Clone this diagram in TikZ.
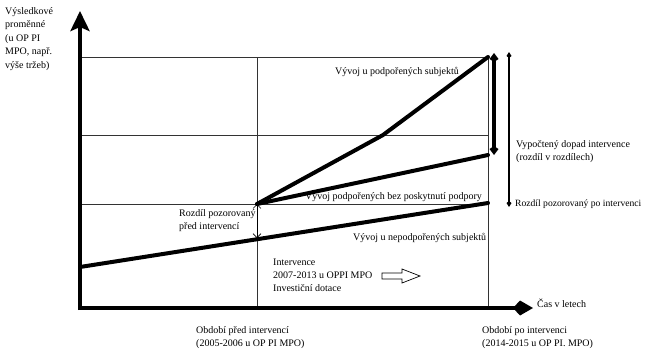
\documentclass[tikz,border=0pt]{standalone}
\usepackage{fontspec}
\setmainfont{Liberation Serif}
\usetikzlibrary{arrows.meta}
\tikzset{
  grid/.style={draw=black!80, line width=0.9pt},
  trend/.style={line width=4pt, line cap=round, line join=round},
  axis/.style={line width=4.5pt},
  lbl/.style={font=\fontsize{10}{13}\selectfont, inner sep=0pt, align=left},
  lbly/.style={font=\fontsize{10}{13.6}\selectfont, inner sep=0pt, align=left},
}
\begin{document}
\begin{tikzpicture}[x=1pt,y=-1pt]
\useasboundingbox (0,0) rectangle (647,349);
\fill[white] (0,0) rectangle (647,349);
% coordinates
\coordinate (O) at (80,308);
\coordinate (Ytop) at (80,11);
\coordinate (Xend) at (533,308);
\coordinate (TL) at (80,57);
\coordinate (TR) at (488,57);
\coordinate (ML) at (80,135);
\coordinate (MR) at (488,135);
\coordinate (LL) at (80,204);
\coordinate (LR) at (488,204);
\coordinate (V1t) at (257,57);
\coordinate (V1b) at (257,308);
\coordinate (V2b) at (488,308);
\coordinate (U1) at (80,267);
\coordinate (U2) at (488,203);
\coordinate (S0) at (257,204);
\coordinate (S1) at (383,135);
\coordinate (S2) at (488,57);
\coordinate (C1) at (488,155);
\coordinate (U0) at (257,238);
\coordinate (DA1) at (494,53);
\coordinate (DA2) at (494,155);
\coordinate (DB1) at (509,52);
\coordinate (DB2) at (509,207);
% grid
\draw[grid] (TL) -- (TR);
\draw[grid] (ML) -- (MR);
\draw[grid] (LL) -- (LR);
\draw[grid] (V1t) -- (V1b);
\draw[grid] (TR) -- (V2b);
% axes
\draw[axis, -{Stealth[length=20pt, width=19pt, inset=4pt]}] ([yshift=-2pt]O) -- (Ytop);
\draw[axis, -{Kite[length=20pt, width=15pt, inset=7pt]}] ([xshift=-2pt]O) -- (Xend);
% trend lines
\draw[trend] (U1) -- (U2);
\draw[trend] (S0) -- (S1) -- (S2);
\draw[trend] (S0) -- (C1);
% observed difference before
\draw[line width=0.6pt, {Straight Barb[length=4pt,width=8pt]}-{Straight Barb[length=4pt,width=8pt]}] (S0) -- (U0);
% right double arrows
\draw[line width=4pt, {Kite[length=9pt,width=9pt,inset=3pt]}-{Kite[length=9pt,width=9pt,inset=3pt]}] (DA1) -- (DA2);
\draw[line width=1.5pt, {Kite[length=6pt,width=5pt,inset=2pt]}-{Kite[length=6pt,width=5pt,inset=2pt]}] (DB1) -- (DB2);
% hollow arrow
\draw[line width=0.7pt] (382,273) -- (402,273) -- (402,269) -- (420,276) -- (402,283) -- (402,279) -- (382,279) -- cycle;
% labels
\node[lbly, anchor=north west] (ylab) at (5,7) {Výsledkové\\proměnné\\(u OP PI\\MPO, např.\\výše tržeb)};
\node[lbl, anchor=west] (xlab) at (537,303) {Čas v letech};
\node[lbl, anchor=west] (supp) at (335,72) {Vývoj u podpořených subjektů};
\node[lbl, anchor=west] (cf) at (305,197) {Vývoj podpořených bez poskytnutí podpory};
\node[lbl, anchor=west] (unsupp) at (353,238) {Vývoj u nepodpořených subjektů};
\node[lbl, anchor=north west] (before) at (179,209) {Rozdíl pozorovaný\\před intervencí};
\node[lbl, anchor=west] (calc) at (516,151.5) {Vypočtený dopad intervence\\(rozdíl v rozdílech)};
\node[lbl, anchor=west, font=\fontsize{9.6}{12}\selectfont] (after) at (515,204) {Rozdíl pozorovaný po intervenci};
\node[lbl, anchor=north west] (interv) at (273,259) {Intervence\\2007-2013 u OPPI MPO\\Investiční dotace};
\node[lbl, anchor=north west] (pbef) at (196,326) {Období před intervencí\\(2005-2006 u OP PI MPO)};
\node[lbl, anchor=north west] (paft) at (482,326) {Období po intervenci\\(2014-2015 u OP PI. MPO)};
\end{tikzpicture}
\end{document}
